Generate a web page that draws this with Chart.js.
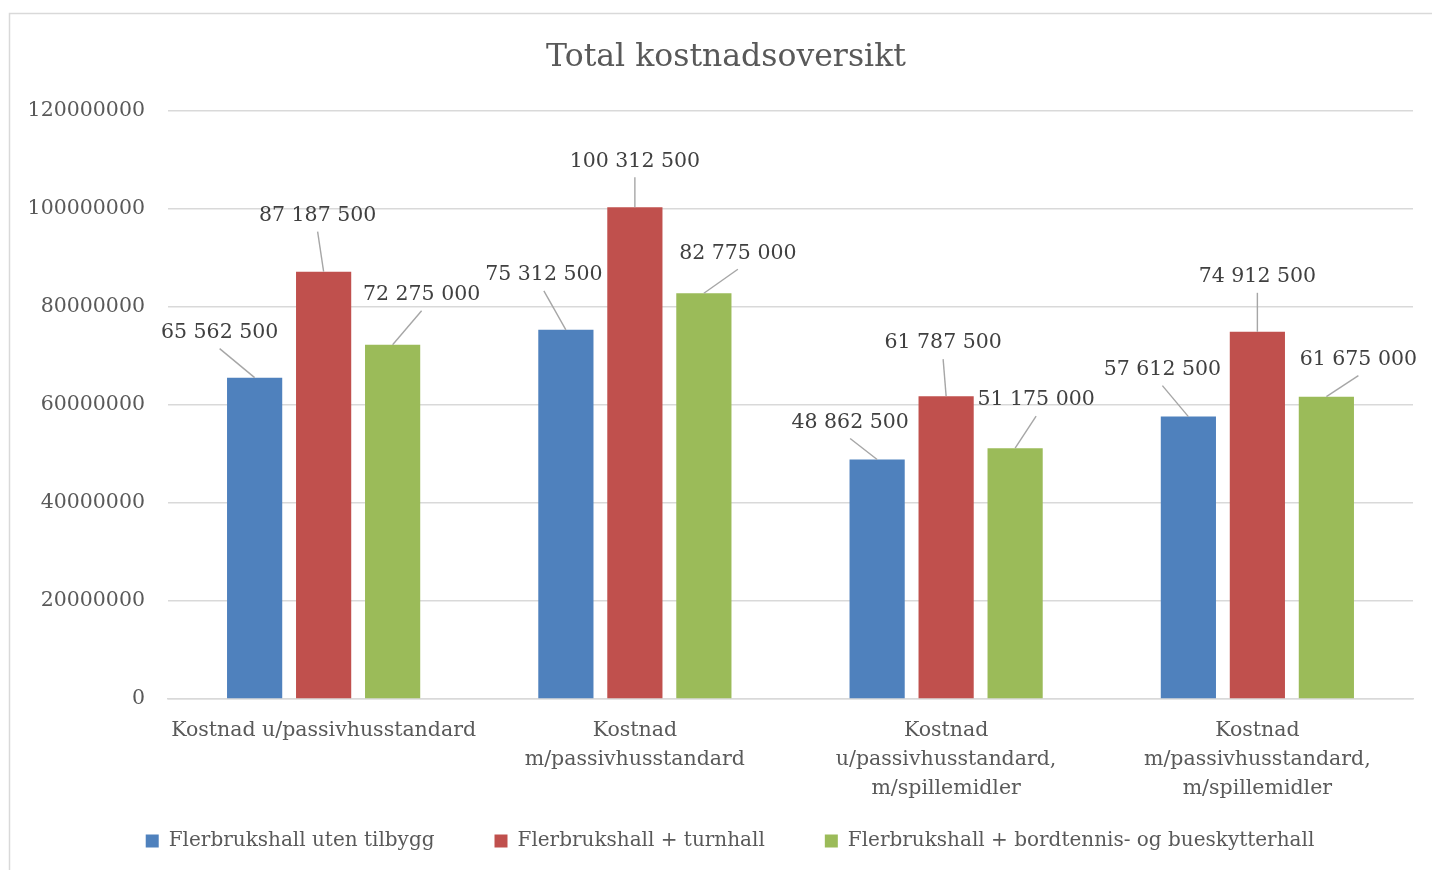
<!DOCTYPE html>
<html>
<head>
<meta charset="utf-8">
<script src="https://cdn.jsdelivr.net/npm/chart.js@4.4.1/dist/chart.umd.min.js"></script>
<style>
  body { margin: 0; background: #fff; }
</style>
</head>
<body>
<canvas id="kostnadChart" width="1432" height="870"></canvas>
<script>
const categories = [
    'Kostnad u/passivhusstandard',
    ['Kostnad', 'm/passivhusstandard'],
    ['Kostnad', 'u/passivhusstandard,', 'm/spillemidler'],
    ['Kostnad', 'm/passivhusstandard,', 'm/spillemidler']
];
const seriesNames = [
    'Flerbrukshall uten tilbygg',
    'Flerbrukshall + turnhall',
    'Flerbrukshall + bordtennis- og bueskytterhall'
];
const utenTilbygg = [65562500, 75312500, 48862500, 57612500];
const turnhall = [87187500, 100312500, 61787500, 74912500];
const bordtennis = [72275000, 82775000, 51175000, 61675000];
const yTicks = [0, 20000000, 40000000, 60000000, 80000000, 100000000, 120000000];

const colors = ['#4f81bd', '#c0504d', '#9bbb59'];
const serif = "'DejaVu Serif', serif";

// where each value label sits relative to the top of its bar (like Excel's dragged labels)
const labelOffsets = [
    [[-35, -46], [-22, -56], [-27, -38], [-26, -48]],
    [[-6, -57], [0, -47], [-3, -54], [0, -56]],
    [[29, -51], [34, -41], [21, -49], [32, -38]]
];

function spaced(v) {
    return String(v).replace(/\B(?=(\d{3})+(?!\d))/g, ' ');
}

const frame = {
    id: 'frame',
    // the y labels need a narrow left padding (they get clipped otherwise),
    // so nudge title and legend back to where Excel centres them
    afterLayout(chart) {
        if (chart.legend) chart.legend.left = 47;
        if (chart.titleBlock) chart.titleBlock.left = 39;
    },
    beforeDraw(chart) {
        const ctx = chart.ctx;
        ctx.save();
        ctx.fillStyle = '#fff';
        ctx.fillRect(0, 0, chart.width, chart.height);
        ctx.strokeStyle = '#d9d9d9';
        ctx.lineWidth = 1.5;
        ctx.strokeRect(9.5, 13.5, chart.width + 20, chart.height + 20);
        ctx.restore();
    }
};

const valueLabels = {
    id: 'valueLabels',
    afterDatasetsDraw(chart) {
        const ctx = chart.ctx;
        ctx.save();
        ctx.font = '20.5px ' + serif;
        ctx.textAlign = 'center';
        ctx.textBaseline = 'middle';
        chart.data.datasets.forEach((ds, i) => {
            chart.getDatasetMeta(i).data.forEach((bar, j) => {
                const off = labelOffsets[i][j];
                const lx = bar.x + off[0];
                const ly = bar.y + off[1];
                ctx.strokeStyle = '#a6a6a6';
                ctx.lineWidth = 1.4;
                ctx.beginPath();
                ctx.moveTo(bar.x, bar.y);
                ctx.lineTo(lx, ly + 17);
                ctx.stroke();
                ctx.fillStyle = '#404040';
                ctx.fillText(spaced(ds.data[j]), lx, ly + 1);
            });
        });
        ctx.restore();
    }
};

new Chart(document.getElementById('kostnadChart').getContext('2d'), {
    type: 'bar',
    data: {
        labels: categories,
        datasets: [utenTilbygg, turnhall, bordtennis].map((d, i) => ({
            label: seriesNames[i],
            data: d,
            backgroundColor: colors[i],
            categoryPercentage: 0.665,
            barPercentage: 0.8
        }))
    },
    options: {
        responsive: false,
        animation: false,
        layout: { padding: { left: 24, right: 19, top: 0, bottom: 9 } },
        plugins: {
            title: {
                display: true,
                text: 'Total kostnadsoversikt',
                color: '#595959',
                font: { family: serif, size: 31.5, weight: 'normal' },
                padding: { top: 39, bottom: 34 }
            },
            legend: {
                position: 'bottom',
                labels: {
                    color: '#595959',
                    font: { family: serif, size: 20 },
                    boxWidth: 13,
                    boxHeight: 13,
                    padding: 20,
                    // wider gaps between items without making the legend taller
                    generateLabels(chart) {
                        const items = Chart.defaults.plugins.legend.labels.generateLabels(chart);
                        items.forEach((it, k) => {
                            it.lineWidth = 0;
                            if (k < items.length - 1) it.text += '\u2003\u2003';
                        });
                        return items;
                    }
                }
            },
            tooltip: { enabled: false }
        },
        scales: {
            x: {
                grid: { display: false },
                border: { color: '#d9d9d9', width: 1.5 },
                ticks: {
                    color: '#595959',
                    font: { family: serif, size: 20.5, lineHeight: 1.42 },
                    padding: 9,
                    maxRotation: 0,
                    autoSkip: false
                },
                afterFit(s) { s.height = 112; }
            },
            y: {
                min: 0,
                max: yTicks[yTicks.length - 1],
                grid: { color: '#d9d9d9', lineWidth: 1.5, drawTicks: false },
                border: { display: false },
                afterBuildTicks(s) { s.ticks = yTicks.map(v => ({ value: v })); },
                ticks: {
                    color: '#595959',
                    font: { family: serif, size: 20.5 },
                    padding: 23,
                    callback: v => String(v)
                },
                afterFit(s) { s.width = 144; }
            }
        }
    },
    plugins: [frame, valueLabels]
});
</script>
</body>
</html>
